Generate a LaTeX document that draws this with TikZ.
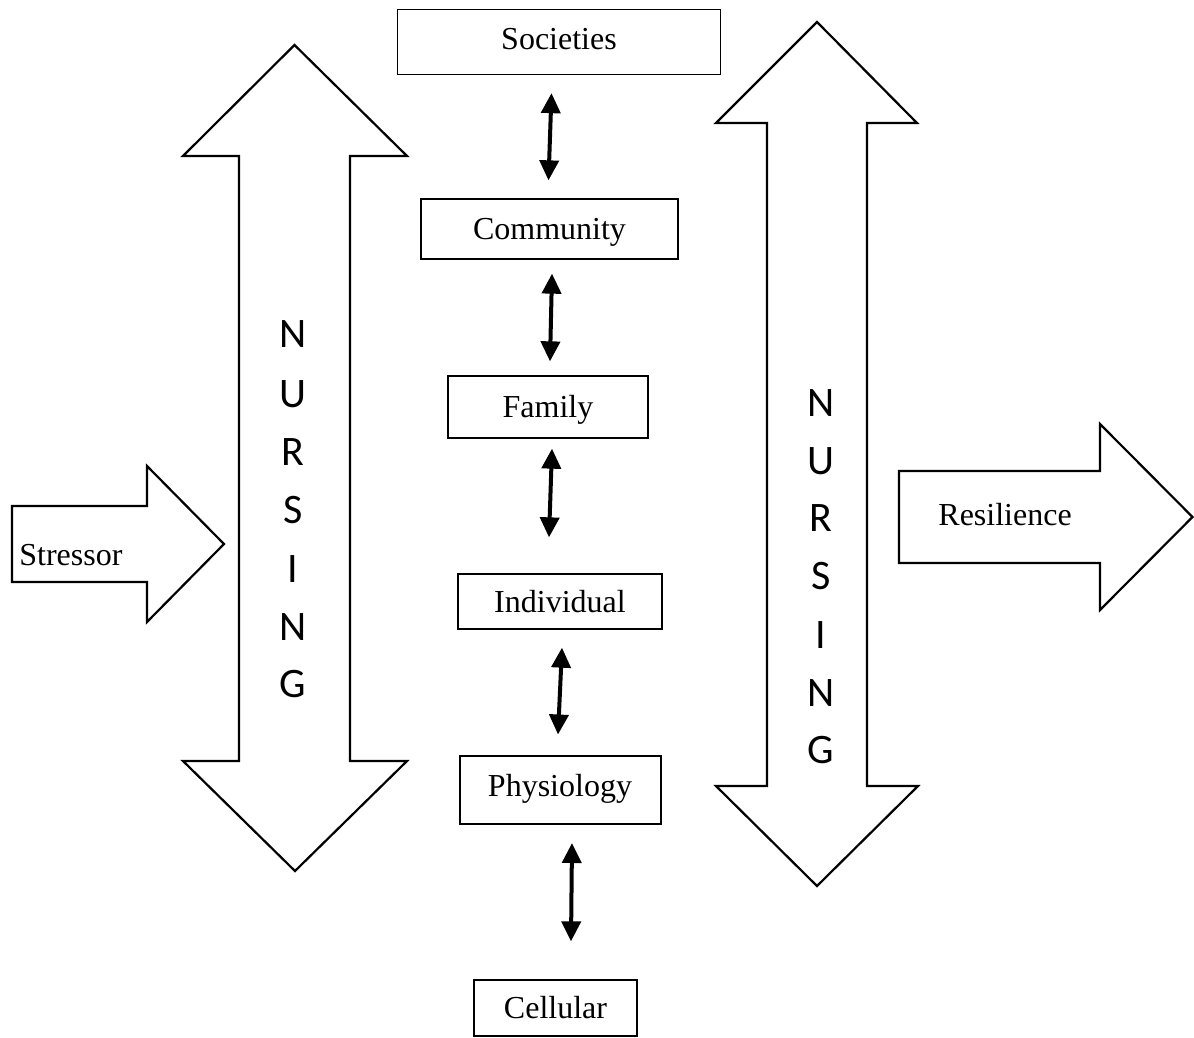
\documentclass[tikz,border=0pt]{standalone}
\usepackage{fontspec}
\setmainfont{Liberation Serif}
\newfontfamily\lettersfont{Carlito}
\usetikzlibrary{arrows.meta,calc}
\begin{document}
\begin{tikzpicture}[x=0.5pt,y=-0.5pt,
  level/.style={draw=black, line width=0.65pt, inner sep=0pt,
    text height=10.5pt, text depth=0pt,
    font=\fontsize{16}{18}\selectfont},
  label/.style={inner sep=0pt, font=\fontsize{16}{18}\selectfont},
  letter/.style={inner sep=0pt, text height=13.5pt, text depth=0pt,
    font=\lettersfont\fontsize{21}{24}\selectfont},
  bigarrow/.style={draw=black, line width=1.1pt, line join=miter, fill=white},
  link/.style={line width=2pt,
    {Triangle[width=9.5pt,length=10pt]}-{Triangle[width=9.5pt,length=10pt]}}]

% page area
\path[use as bounding box, fill=white] (0,0) rectangle (1194,1038);

% vertical double-headed arrows labelled NURSING
\draw[bigarrow] (294.5,45) -- (407,156) -- (350,156) -- (350,761) -- (407,761)
  -- (295,871) -- (183,761) -- (239,761) -- (239,156) -- (183,156) -- cycle;
\draw[bigarrow] (817,22) -- (917,123) -- (867,123) -- (867,786) -- (918,786)
  -- (817,886) -- (716,786) -- (767,786) -- (767,123) -- (716,123) -- cycle;

% horizontal input and output arrows
\draw[bigarrow] (12,506) -- (147,506) -- (147,466) -- (224,544) -- (147,622)
  -- (147,582) -- (12,582) -- cycle;
\draw[bigarrow] (899,471) -- (1100,471) -- (1100,424) -- (1192.5,517) -- (1100,610)
  -- (1100,563) -- (899,563) -- cycle;

\node[label, anchor=base west] (stressor) at (19,565) {Stressor};
\node[label, anchor=base west] (resilience) at (938,525) {Resilience};

% NURSING letters
\foreach \ch/\yl/\yr [count=\i] in {N/334/402.5, U/394/461, R/452/518,
    S/510/576, I/569/635, N/627/692.5, G/684/750} {
  \node[letter] (nl\i) at (293,\yl) {\ch};
  \node[letter] (nr\i) at (821,\yr) {\ch};
}

% levels of organisation
\node[level, minimum width=161.5pt, minimum height=32.5pt] (soc) at (559,42) {\raisebox{1.5pt}{Societies}};
\node[level, minimum width=128.5pt, minimum height=30pt] (com) at (549.5,229) {Community};
\node[level, minimum width=100pt, minimum height=31pt] (fam) at (548,407) {Family};
\node[level, minimum width=102pt, minimum height=27.5pt] (ind) at (560,601.5) {Individual};
\node[level, line width=1pt, minimum width=100.5pt, minimum height=34pt] (phy) at (560,789.5) {\raisebox{2pt}{Physiology}};
\node[level, minimum width=81.5pt, minimum height=28pt] (cel) at (555.5,1008) {Cellular};

% two-way links between levels
\draw[link] ($(soc.south)+(-7.5,18)$) -- ($(com.north)+(-1,-18)$);
\draw[link] ($(com.south)+(2.5,14)$) -- ($(fam.north)+(2,-14)$);
\draw[link] ($(fam.south)+(4,10)$) -- ($(ind.north)+(-11,-36)$);
\draw[link] ($(ind.south)+(2,18)$) -- ($(phy.north)+(-2,-20)$);
\draw[link] ($(phy.south)+(12,18.5)$) -- ($(cel.north)+(15.5,-38)$);

\end{tikzpicture}
\end{document}
